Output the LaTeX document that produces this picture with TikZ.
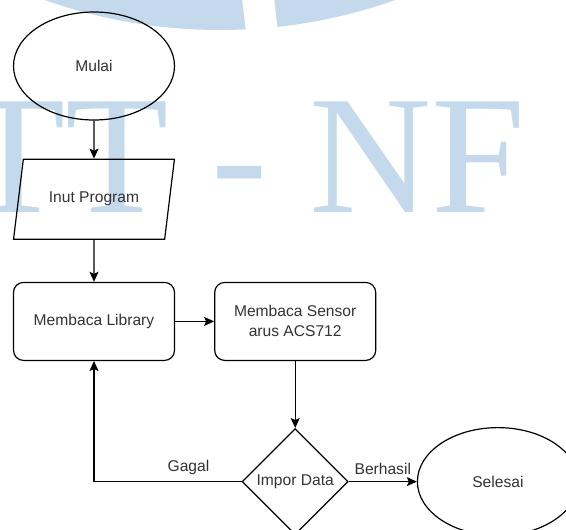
\documentclass[tikz,border=0pt]{standalone}
\usepackage{fontspec}
\setmainfont{Liberation Sans}
\newfontfamily\wmfont{Liberation Serif}
\usepackage{xcolor}
\usetikzlibrary{arrows.meta, positioning, shapes.geometric}
\definecolor{wmblue}{RGB}{197,217,236}

\begin{document}
\begin{tikzpicture}[
  x=1pt, y=-1pt,
  line width=1.2pt,
  font=\fontsize{15.6}{20}\selectfont,
  every node/.style={text=black!80},
  block/.style={draw, rectangle, rounded corners=10pt, minimum width=161pt, minimum height=78pt, align=center},
  term/.style={draw, ellipse, minimum width=161pt, minimum height=108pt},
  io/.style={draw, trapezium, trapezium left angle=72, trapezium right angle=108, trapezium stretches=true, minimum width=161pt, minimum height=80pt},
  decision/.style={draw, diamond, minimum width=106pt, minimum height=106pt, inner sep=0pt},
  arr/.style={-{Stealth[length=10pt, width=9pt, inset=2pt]}},
  lbl/.style={above=6pt, inner sep=0pt}
]
\useasboundingbox (0,0) rectangle (566,530);

% watermark
\fill[wmblue] (220,-495) circle (525pt);
\fill[white] (242,-2) -- (274,-2) -- (279,40) -- (247,40) -- cycle;
\node[anchor=base west, inner sep=0pt, text=wmblue, font=\wmfont\fontsize{169}{169}\selectfont] (wm) at (-38,212) {TT {\itshape -} NF};

\node[term] (mulai) at (94,66) {Mulai};
\node[io, below=38pt of mulai] (inp) {Inut Program};
\node[block, below=42pt of inp] (lib) {Membaca Library};
\node[block, right=39pt of lib] (sens) {Membaca Sensor\\arus ACS712};
\node[decision, below=67pt of sens] (impor) {Impor Data};
\node[term, right=68pt of impor] (selesai) {Selesai};

\draw[arr] (mulai) -- (inp);
\draw[arr] (inp) -- (lib);
\draw[arr] (lib) -- (sens);
\draw[arr] (sens) -- (impor);
\draw[arr] (impor) -- node[lbl] {Berhasil} (selesai);
\draw[arr] (impor.west) -| node[lbl, pos=0.18] {Gagal} (lib.south);
\end{tikzpicture}
\end{document}
